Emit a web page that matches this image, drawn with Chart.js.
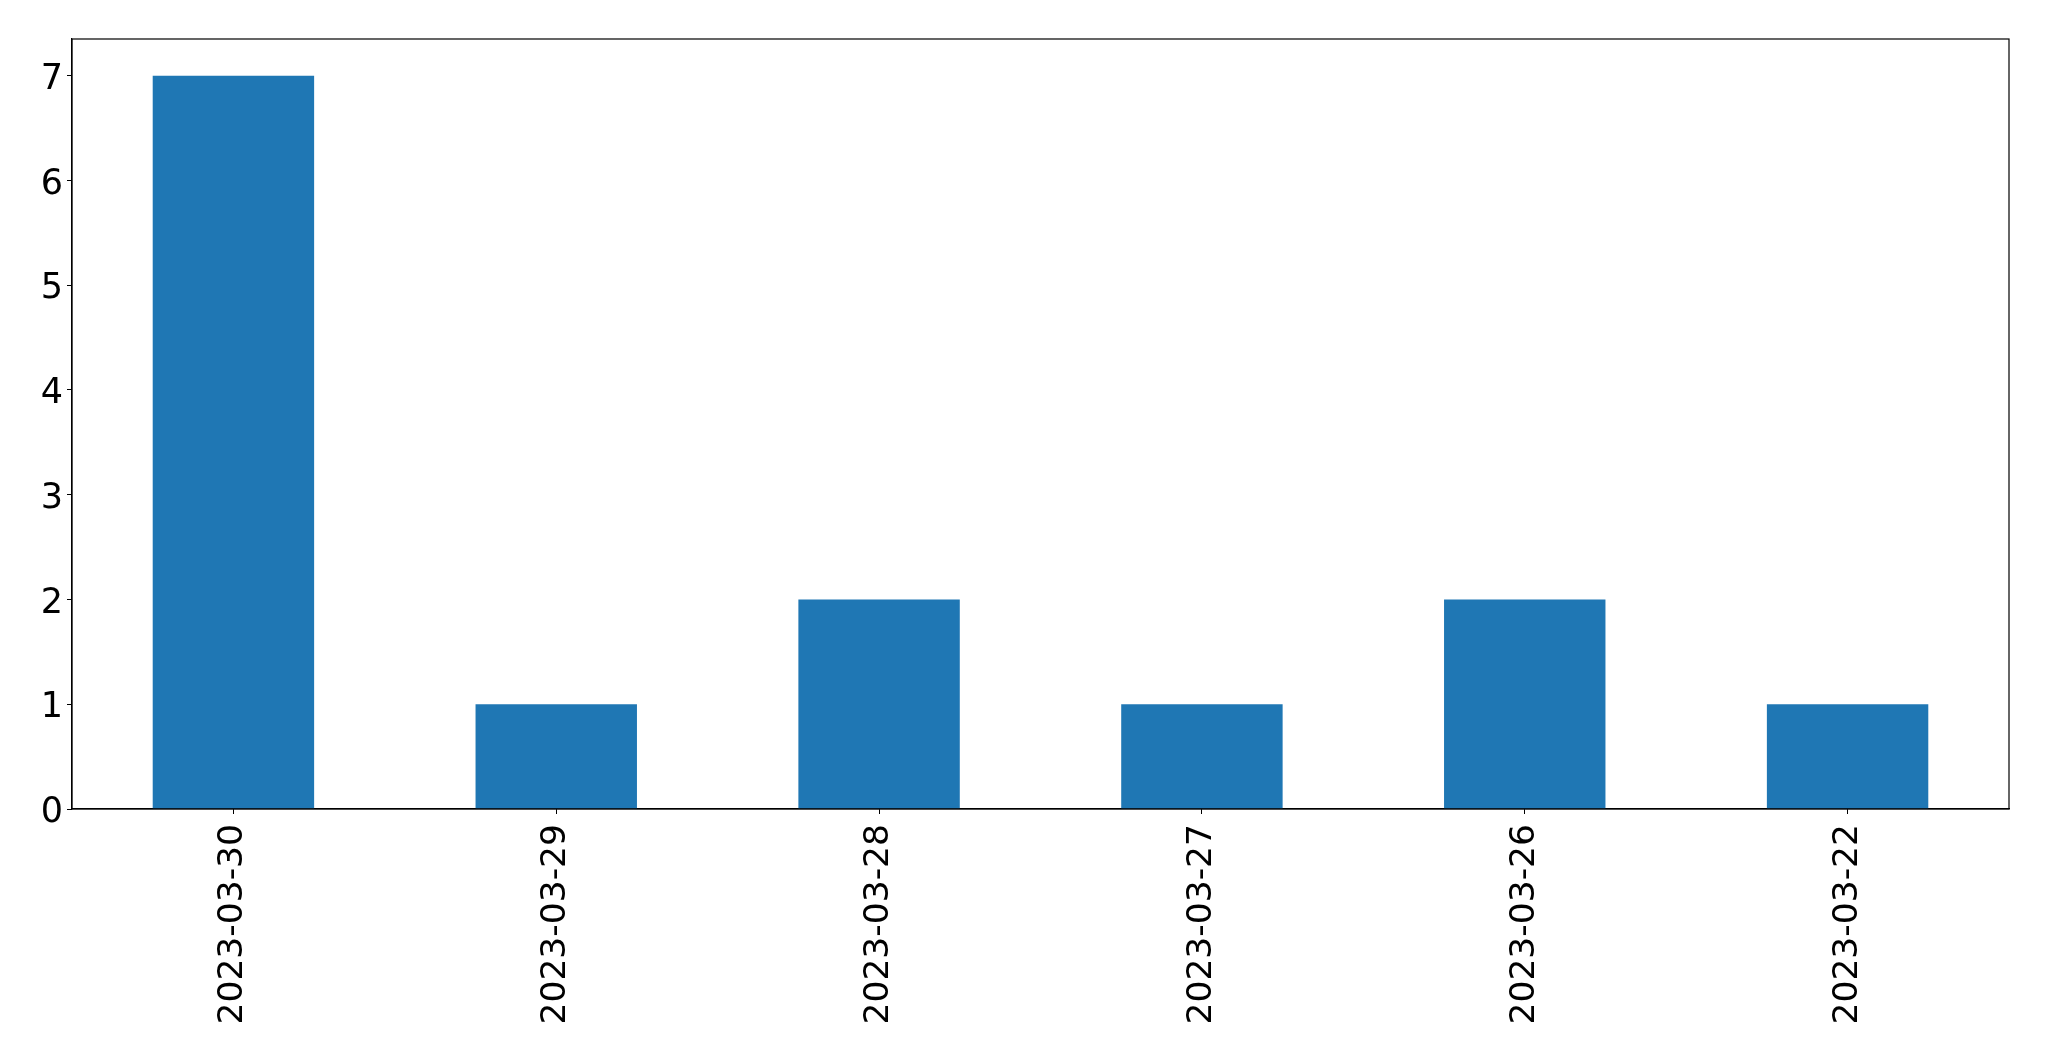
<!DOCTYPE html>
<html>
<head>
<meta charset="utf-8">
<script src="https://cdn.jsdelivr.net/npm/chart.js@4/dist/chart.umd.min.js"></script>
<style>
	html, body { margin: 0; padding: 0; background: #fff; }
	#wrap { width: 2049px; height: 1061px; }
</style>
</head>
<body>
<div id="wrap"><canvas id="barChart" width="2049" height="1061"></canvas></div>
<script>
const dates = ['2023-03-30', '2023-03-29', '2023-03-28', '2023-03-27', '2023-03-26', '2023-03-22'];
const counts = [7, 1, 2, 1, 2, 1];
const yTicks = [0, 1, 2, 3, 4, 5, 6, 7];

// draws the top and right spines like matplotlib
const frame = {
	id: 'frame',
	afterDraw(chart) {
		const { ctx, chartArea: a } = chart;
		ctx.save();
		ctx.strokeStyle = '#000';
		ctx.lineWidth = 1.2;
		ctx.strokeRect(a.left, a.top, a.right - a.left, a.bottom - a.top);
		ctx.restore();
	}
};

Chart.defaults.font.family = "'DejaVu Sans', sans-serif";
Chart.defaults.color = '#000';

new Chart(document.getElementById('barChart').getContext('2d'), {
	type: 'bar',
	data: {
		labels: dates,
		datasets: [{
			data: counts,
			backgroundColor: '#1f77b4',
			borderWidth: 0,
			barPercentage: 0.5,
			categoryPercentage: 1
		}]
	},
	options: {
		responsive: false,
		animation: false,
		layout: { padding: { left: 0, top: 39, right: 40, bottom: 0 } },
		plugins: { legend: { display: false }, tooltip: { enabled: false } },
		scales: {
			x: {
				offset: true,
				grid: { display: true, drawOnChartArea: false, tickLength: 5, color: '#000', offset: false },
				border: { color: '#000', width: 1.2 },
				ticks: { font: { size: 34.5 }, minRotation: 90, maxRotation: 90, padding: 10, autoSkip: false },
				afterFit(scale) { scale.height = 252; }
			},
			y: {
				min: 0,
				max: 7.35,
				afterBuildTicks(scale) { scale.ticks = yTicks.map(v => ({ value: v })); },
				grid: { display: true, drawOnChartArea: false, tickLength: 5, color: '#000' },
				border: { color: '#000', width: 1.2 },
				ticks: { font: { size: 35 }, padding: 4, labelOffset: 4 },
				afterFit(scale) { scale.width = 72; }
			}
		}
	},
	plugins: [frame]
});
</script>
</body>
</html>
